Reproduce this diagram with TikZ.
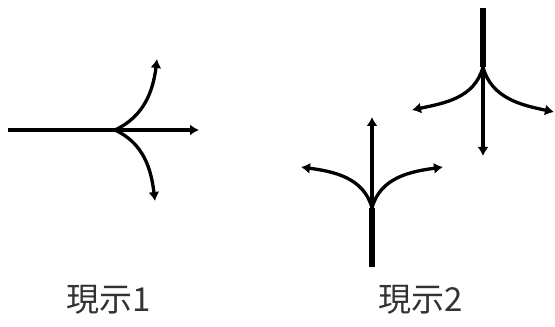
\documentclass[tikz,border=0pt]{standalone}
\usepackage{fontspec}
\usepackage{tikz}
\usetikzlibrary{calc,arrows.meta,positioning}
\newfontfamily\jpfont{Noto Sans CJK JP}
\definecolor{sigBlack}{RGB}{0,0,0}
\definecolor{sigText}{RGB}{51,51,51}

\begin{document}
\begin{tikzpicture}[x=1pt,y=1pt,
  lane/.style={sigBlack, line width=3.3pt, -{Latex[length=9pt,width=11pt]}},
  stem/.style={sigBlack, line width=6.5pt},
  phase/.style={text=sigText, font=\jpfont\fontsize{33}{36}\selectfont}]
\useasboundingbox (0,0) rectangle (555,327);
% phase 1
\coordinate (p1in) at (8,197);
\coordinate (p1j) at (115,197);
\coordinate (p1s) at (199,197);
\coordinate (p1l) at (157,268);
\coordinate (p1r) at (155,126);
\draw[sigBlack, line width=3.3pt] (p1in) -- (p1j);
\draw[lane] (p1j) -- (p1s);
\draw[lane] (p1j) to[out=25,in=-97] (p1l);
\draw[lane] (p1j) to[out=-25,in=97] (p1r);
% phase 2, southbound
\coordinate (p2top) at (483,319);
\coordinate (p2j) at (483,260);
\coordinate (p2s) at (483,171);
\coordinate (p2l) at (412,217);
\coordinate (p2r) at (554,215);
\draw[stem] (p2top) -- (p2j);
\draw[lane] (p2j) -- (p2s);
\draw[lane] (p2j) to[out=-105,in=12] (p2l);
\draw[lane] (p2j) to[out=-75,in=168] (p2r);
% phase 2, northbound
\coordinate (p3bot) at (372,60);
\coordinate (p3j) at (372,119);
\coordinate (p3s) at (372,210);
\coordinate (p3l) at (301,160);
\coordinate (p3r) at (443,160);
\draw[stem] (p3bot) -- (p3j);
\draw[lane] (p3j) -- (p3s);
\draw[lane] (p3j) to[out=105,in=-8] (p3l);
\draw[lane] (p3j) to[out=75,in=-172] (p3r);
% labels
\node[phase] (cap1) at (109,27) {現示1};
\node[phase] (cap2) at (421,27) {現示2};
\end{tikzpicture}
\end{document}
